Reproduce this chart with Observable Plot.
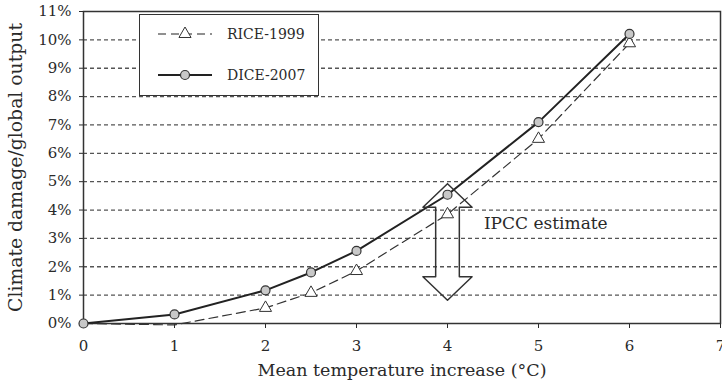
<!DOCTYPE html>
<html>
<head>
<meta charset="utf-8">
<script src="https://cdn.jsdelivr.net/npm/d3@7"></script>
<script src="https://cdn.jsdelivr.net/npm/@observablehq/plot@0.6"></script>
<style>
  html, body { margin: 0; padding: 0; background: #fff; }
  #chart { position: relative; width: 722px; height: 388px; font-family: "DejaVu Serif", serif; overflow: hidden; }
  #legend { position: absolute; left: 139px; top: 14px; width: 180px; height: 82px; box-sizing: border-box;
            border: 1.5px solid #333; background: #fff; }
  #legend svg { position: absolute; left: -1.5px; top: -1.5px; }
</style>
</head>
<body>
<div id="chart"></div>
<script>
// ---- data ----
const temps = [0, 1, 2, 2.5, 3, 4, 5, 6];                       // °C
const rice1999 = [0, -0.05, 0.55, 1.08, 1.85, 3.85, 6.51, 9.88];  // % of output
const dice2007 = [0, 0.32, 1.17, 1.8, 2.56, 4.54, 7.1, 10.21];    // % of output
const seriesNames = ["RICE-1999", "DICE-2007"];
const yTicks = [0, 1, 2, 3, 4, 5, 6, 7, 8, 9, 10, 11];
const xTicks = [0, 1, 2, 3, 4, 5, 6, 7];
const gridLines = [1, 2, 3, 4, 5, 6, 7, 8, 9, 10];
const ipccTemp = [4];
const ipccLow = [0.82];
const ipccHigh = [4.93];
const ipccLabel = ["IPCC estimate"];
const xTitle = "Mean temperature increase (°C)";
const yTitle = "Climate damage/global output";

// ---- derived tables ----
const rice = temps.map((t, i) => ({t, v: rice1999[i]}));
const dice = temps.map((t, i) => ({t, v: dice2007[i]}));

// double-headed arrow outline built from the IPCC range
const headW = 0.27, shaftW = 0.13, headH = 0.83;
const cx = ipccTemp[0], lo = ipccLow[0], hi = ipccHigh[0];
const arrow = [
  [cx, hi], [cx + headW, hi - headH], [cx + shaftW, hi - headH], [cx + shaftW, lo + headH],
  [cx + headW, lo + headH], [cx, lo], [cx - headW, lo + headH], [cx - shaftW, lo + headH],
  [cx - shaftW, hi - headH], [cx - headW, hi - headH], [cx, hi]
].map(([t, v]) => ({t, v}));

const ink = "#2a2a2a";

const plot = Plot.plot({
  width: 722,
  height: 388,
  marginLeft: 83,
  marginRight: 2,
  marginTop: 11,
  marginBottom: 65,
  x: {domain: [0, 7]},
  y: {domain: [0, 11]},
  style: {fontFamily: "DejaVu Serif", fontSize: "15px", color: ink, background: "white", overflow: "visible"},
  marks: [
    Plot.ruleY(gridLines, {stroke: "#555", strokeWidth: 1.3, strokeDasharray: "4,3"}),
    Plot.axisY({ticks: yTicks, tickFormat: d => d + "%", tickSize: 4, tickPadding: 8, label: null, fontSize: 15}),
    Plot.axisX({ticks: xTicks, tickFormat: d => String(d), tickSize: 5, tickPadding: 12, label: null, fontSize: 15}),
    Plot.frame({stroke: "#333", strokeWidth: 1.5}),
    Plot.line(rice, {x: "t", y: "v", stroke: "#333", strokeWidth: 1.2, strokeDasharray: "9,5"}),
    Plot.line(dice, {x: "t", y: "v", stroke: "#222", strokeWidth: 2}),
    Plot.line(arrow, {x: "t", y: "v", stroke: "#333", strokeWidth: 1.5, fill: "none", curve: "linear"}),
    Plot.dot(rice.filter(d => d.v >= 0 && d.t > 0), {x: "t", y: "v", symbol: "triangle", r: 4.5, fill: "white", stroke: "#333", strokeWidth: 1}),
    Plot.dot(dice, {x: "t", y: "v", r: 4.5, fill: "#c8c8c8", stroke: "#333", strokeWidth: 1.2}),
    Plot.text(ipccLabel, {x: cx + 0.4, y: (hi + lo) / 2 + 0.65, text: d => d, textAnchor: "start", fontSize: 17, fill: ink}),
    Plot.text([xTitle], {frameAnchor: "bottom", dy: 52, text: d => d, textAnchor: "middle", fontSize: 17.5, fill: ink}),
    Plot.text([yTitle], {frameAnchor: "left", dx: -68, rotate: -90, text: d => d, textAnchor: "middle", fontSize: 18.8, fill: ink})
  ]
});

const chart = document.getElementById("chart");
chart.appendChild(plot);

// legend overlay
const legend = document.createElement("div");
legend.id = "legend";
const svgNS = "http://www.w3.org/2000/svg";
const lsvg = document.createElementNS(svgNS, "svg");
lsvg.setAttribute("width", 180);
lsvg.setAttribute("height", 82);
const rows = [
  {name: seriesNames[0], y: 20, dash: "8,5", sw: 1.2, sym: "tri"},
  {name: seriesNames[1], y: 61, dash: null, sw: 2, sym: "circle"}
];
for (const r of rows) {
  const ln = document.createElementNS(svgNS, "line");
  ln.setAttribute("x1", 19); ln.setAttribute("x2", 73);
  ln.setAttribute("y1", r.y); ln.setAttribute("y2", r.y);
  ln.setAttribute("stroke", "#222"); ln.setAttribute("stroke-width", r.sw);
  if (r.dash) ln.setAttribute("stroke-dasharray", r.dash);
  lsvg.appendChild(ln);
  if (r.sym === "tri") {
    const p = document.createElementNS(svgNS, "path");
    p.setAttribute("d", d3.symbol(d3.symbolTriangle, 4.5 * 4.5 * Math.PI)());
    p.setAttribute("transform", `translate(46,${r.y})`);
    p.setAttribute("fill", "white"); p.setAttribute("stroke", "#333");
    lsvg.appendChild(p);
  } else {
    const c = document.createElementNS(svgNS, "circle");
    c.setAttribute("cx", 46); c.setAttribute("cy", r.y); c.setAttribute("r", 4.5);
    c.setAttribute("fill", "#c8c8c8"); c.setAttribute("stroke", "#333"); c.setAttribute("stroke-width", 1.2);
    lsvg.appendChild(c);
  }
  const tx = document.createElementNS(svgNS, "text");
  tx.setAttribute("x", 88); tx.setAttribute("y", r.y);
  tx.setAttribute("dy", "0.35em");
  tx.setAttribute("font-family", "DejaVu Serif");
  tx.setAttribute("font-size", 14);
  tx.setAttribute("fill", ink);
  tx.textContent = r.name;
  lsvg.appendChild(tx);
}
legend.appendChild(lsvg);
chart.appendChild(legend);
</script>
</body>
</html>
